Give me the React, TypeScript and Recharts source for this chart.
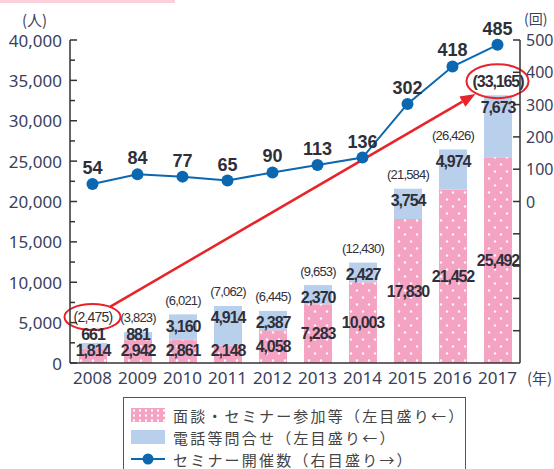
import { Bar, ComposedChart, LabelList, Line, ReferenceLine, XAxis, YAxis } from "recharts";

const years = ["2008", "2009", "2010", "2011", "2012", "2013", "2014", "2015", "2016", "2017"];
const seminar = [1814, 2942, 2861, 2148, 4058, 7283, 10003, 17830, 21452, 25492];
const phone = [661, 881, 3160, 4914, 2387, 2370, 2427, 3754, 4974, 7673];
const totals = [2475, 3823, 6021, 7062, 6445, 9653, 12430, 21584, 26426, 33165];
const sessions = [54, 84, 77, 65, 90, 113, 136, 302, 418, 485];

const leftTicks = [0, 2500, 5000, 7500, 10000, 12500, 15000, 17500, 20000, 22500, 25000, 27500, 30000, 32500, 35000, 37500, 40000];
const rightTicks = [-400, -300, -200, -100, 0, 100, 200, 300, 400, 500];

const data = years.map((year, i) => ({
    year,
    seminar: seminar[i],
    phone: phone[i],
    total: totals[i],
    sessions: sessions[i],
}));

const PINK = "#f5a3c3";
const BLUE = "#b9d0ec";
const LINE = "#0b68b0";
const RED = "#e8232a";
const INK = "#2f2f3a";
const NUM_FONT = "'Liberation Sans', Arial, sans-serif";
const AXIS_FONT = "'Noto Sans', sans-serif";
const JP_FONT = "'Noto Sans CJK JP', sans-serif";

const fmt = (v: number) => v.toLocaleString("en-US");

// where the three numbers of one stacked bar go (pixel y values)
function labelLayout(base: number, blueTop: number, pinkTop: number) {
    const pinkY = Math.min((pinkTop + base) / 2, base - 13);
    const blueY = Math.min(blueTop + 12, pinkY - 16);
    const totalY = Math.min(blueTop - 14, blueY - 17);
    return { pinkY, blueY, totalY };
}

function BarLabels(props: any) {
    const vb = props.viewBox ?? props;
    const i: number = props.index;
    const { x, y, width, height } = vb;
    const pinkTop = y + height;
    const base = pinkTop + (height * seminar[i]) / phone[i];
    const { pinkY, blueY, totalY } = labelLayout(base, y, pinkTop);
    const cx = x + width / 2;
    const last = i === years.length - 1;
    const totalSize = i === 0 ? 14 : last ? 16 : 13;
    return (
        <g fontFamily={NUM_FONT} fill={INK} textAnchor="middle">
            <text x={cx} y={pinkY} dominantBaseline="central" fontSize={16} fontWeight="bold" letterSpacing={-1.1}>
                {fmt(seminar[i])}
            </text>
            <text x={cx} y={blueY} dominantBaseline="central" fontSize={16} fontWeight="bold" letterSpacing={-1.1}>
                {fmt(phone[i])}
            </text>
            <text
                x={cx}
                y={totalY}
                dominantBaseline="central"
                fontSize={totalSize}
                fontWeight={last ? "bold" : "normal"}
                letterSpacing={last ? -1.1 : -0.8}
            >
                ({fmt(totals[i])})
            </text>
        </g>
    );
}

function ArrowShape(props: any) {
    const { x1, y1, x2, y2 } = props;
    const last = years.length - 1;
    const k = (y1 - y2) / (totals[last] - totals[0]);
    const base = y1 + totals[0] * k;
    const at = (i: number) =>
        labelLayout(base, base - totals[i] * k, base - seminar[i] * k).totalY;
    const a = { x: x1, y: at(0), rx: 28, ry: 13 };
    const b = { x: x2, y: at(last), rx: 31, ry: 17 };
    const dx = b.x - a.x;
    const dy = b.y - a.y;
    const len = Math.hypot(dx, dy);
    const ux = dx / len;
    const uy = dy / len;
    const edge = (e: { rx: number; ry: number }) =>
        1 / Math.sqrt((ux / e.rx) ** 2 + (uy / e.ry) ** 2);
    const sx = a.x + ux * edge(a);
    const sy = a.y + uy * edge(a);
    const ex = b.x - ux * (edge(b) + 1);
    const ey = b.y - uy * (edge(b) + 1);
    const hl = 15;
    const hw = 6;
    const bx = ex - ux * hl;
    const by = ey - uy * hl;
    return (
        <g>
            <ellipse cx={a.x} cy={a.y} rx={a.rx} ry={a.ry} fill="none" stroke={RED} strokeWidth={2} />
            <ellipse cx={b.x} cy={b.y} rx={b.rx} ry={b.ry} fill="none" stroke={RED} strokeWidth={2} />
            <line x1={sx} y1={sy} x2={bx} y2={by} stroke={RED} strokeWidth={2.5} />
            <polygon
                points={`${ex},${ey} ${bx - uy * hw},${by + ux * hw} ${bx + uy * hw},${by - ux * hw}`}
                fill={RED}
            />
        </g>
    );
}

function LeftTick(props: any) {
    const { x, y, payload } = props;
    const v: number = payload.value;
    const major = v % 5000 === 0;
    return (
        <g>
            <line x1={x + 8} y1={y} x2={x + 8 + (major ? 7 : 5)} y2={y} stroke="#333" strokeWidth={1.5} />
            {major && (
                <text x={x} y={y} textAnchor="end" dominantBaseline="central" fontSize={17} fontFamily={AXIS_FONT} fill="#3a3f5c">
                    {fmt(v)}
                </text>
            )}
        </g>
    );
}

function RightTick(props: any) {
    const { x, y, payload } = props;
    const v: number = payload.value;
    return (
        <g>
            <line x1={x - 6} y1={y} x2={x - 13} y2={y} stroke="#333" strokeWidth={1.5} />
            {v >= 0 && (
                <text x={x} y={y} textAnchor="start" dominantBaseline="central" fontSize={16} fontFamily={AXIS_FONT} fill="#3a3f5c">
                    {v}
                </text>
            )}
        </g>
    );
}

const legendItems = [
    { label: "面談・セミナー参加等（左目盛り←）", kind: "pink" },
    { label: "電話等問合せ（左目盛り←）", kind: "blue" },
    { label: "セミナー開催数（右目盛り→）", kind: "line" },
];

function Swatch({ kind }: { kind: string }) {
    if (kind === "line") {
        return (
            <svg width={34} height={14} style={{ display: "block" }}>
                <line x1={0} y1={7} x2={34} y2={7} stroke={LINE} strokeWidth={2} />
                <circle cx={17} cy={7} r={5.5} fill={LINE} />
            </svg>
        );
    }
    const bg =
        kind === "pink"
            ? `radial-gradient(circle, #fff 0.9px, transparent 1.4px) 0 0 / 6px 5px, ${PINK}`
            : BLUE;
    return <div style={{ width: 34, height: 14, background: bg }} />;
}

export default function App() {
    return (
        <div style={{ position: "absolute", left: 0, top: 0, width: 554, height: 469, background: "#fff", overflow: "hidden" }}>
            <div style={{ position: "absolute", left: 0, top: 0, width: 175, height: 3, background: "#fcd0da" }} />
            <div style={{ position: "absolute", left: 22, top: 9, fontSize: 15, fontFamily: JP_FONT, color: "#3a3f5c" }}>(人)</div>
            <div style={{ position: "absolute", left: 524, top: 8, fontSize: 14, fontFamily: JP_FONT, color: "#3a3f5c" }}>(回)</div>
            <div style={{ position: "absolute", left: 527, top: 367, fontSize: 15, fontFamily: JP_FONT, color: "#3a3f5c" }}>(年)</div>

            <ComposedChart
                width={554}
                height={469}
                data={data}
                margin={{ top: 40, right: 0, bottom: 76, left: 0 }}
                barCategoryGap={0}
            >
                <defs>
                    <pattern id="pinkDots" width={12} height={14} patternUnits="userSpaceOnUse">
                        <rect width={12} height={14} fill={PINK} />
                        <circle cx={3} cy={3.5} r={1.2} fill="#fff" fillOpacity={0.9} />
                        <circle cx={9} cy={10.5} r={1.2} fill="#fff" fillOpacity={0.9} />
                    </pattern>
                </defs>

                <XAxis
                    dataKey="year"
                    xAxisId={0}
                    axisLine={{ stroke: "#333", strokeWidth: 1.5 }}
                    tickLine={false}
                    tickSize={0}
                    tickMargin={9}
                    height={30}
                    interval={0}
                    tick={{ fontSize: 17, fontFamily: AXIS_FONT, fill: "#3a3f5c" }}
                />

                <YAxis
                    yAxisId="left"
                    domain={[0, 40000]}
                    ticks={leftTicks}
                    interval={0}
                    width={70}
                    axisLine={{ stroke: "#333", strokeWidth: 1.5 }}
                    tickLine={false}
                    tickSize={0}
                    tickMargin={8}
                    tick={<LeftTick />}
                />

                <YAxis
                    yAxisId="right"
                    orientation="right"
                    domain={[-500, 500]}
                    ticks={rightTicks}
                    interval={0}
                    width={34}
                    axisLine={{ stroke: "#333", strokeWidth: 1.5 }}
                    tickLine={false}
                    tickSize={0}
                    tickMargin={6}
                    tick={<RightTick />}
                />

                <Bar dataKey="seminar" yAxisId="left" stackId="a" barSize={28} fill="url(#pinkDots)" isAnimationActive={false} />
                <Bar dataKey="phone" yAxisId="left" stackId="a" barSize={28} fill={BLUE} isAnimationActive={false}>
                    <LabelList dataKey="phone" content={(p: any) => <BarLabels {...p} />} />
                </Bar>

                <ReferenceLine
                    yAxisId="left"
                    segment={[
                        { x: years[0], y: totals[0] },
                        { x: years[years.length - 1], y: totals[totals.length - 1] },
                    ]}
                    shape={(p: any) => <ArrowShape {...p} />}
                />

                <Line
                    dataKey="sessions"
                    yAxisId="right"
                    stroke={LINE}
                    strokeWidth={2}
                    dot={{ r: 6, fill: LINE, stroke: LINE, strokeWidth: 0 }}
                    isAnimationActive={false}
                >
                    <LabelList
                        dataKey="sessions"
                        position="top"
                        offset={10}
                        style={{ fontSize: 18, fontWeight: "bold", fontFamily: NUM_FONT, fill: INK }}
                    />
                </Line>
            </ComposedChart>

            <div
                style={{
                    position: "absolute",
                    left: 123,
                    top: 397,
                    width: 343,
                    height: 80,
                    border: "1.5px solid #555",
                    boxSizing: "border-box",
                    padding: "6px 0 0 7px",
                }}
            >
                {legendItems.map((it) => (
                    <div key={it.label} style={{ display: "flex", alignItems: "center", height: 22 }}>
                        <Swatch kind={it.kind} />
                        <span style={{ marginLeft: 8, fontSize: 15, letterSpacing: 2.2, fontFamily: JP_FONT, color: "#444" }}>
                            {it.label}
                        </span>
                    </div>
                ))}
            </div>
        </div>
    );
}
